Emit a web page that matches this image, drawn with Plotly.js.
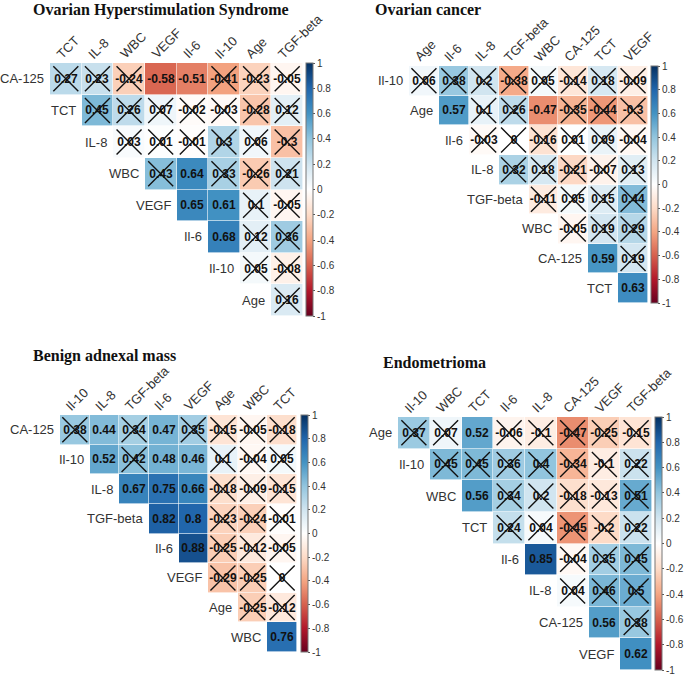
<!DOCTYPE html>
<html>
<head>
<meta charset="utf-8">
<script src="https://cdn.plot.ly/plotly-3.0.1.min.js"></script>
<style>body{margin:0;background:#fff}#myDiv{width:685px;height:676px}</style>
</head>
<body>
<div id="myDiv"></div>
<script>
// Ovarian Hyperstimulation Syndrome
var ohssCols = ['TCT', 'IL-8', 'WBC', 'VEGF', 'Il-6', 'Il-10', 'Age', 'TGF-beta'];
var ohssRows = ['CA-125', 'TCT', 'IL-8', 'WBC', 'VEGF', 'Il-6', 'Il-10', 'Age'];
var ohssVals = [
  [0.27, 0.23, -0.24, -0.58, -0.51, -0.41, -0.23, -0.05],
  [0.45, 0.26, 0.07, -0.02, -0.03, -0.28, 0.12],
  [0.03, 0.01, -0.01, 0.3, 0.06, -0.3],
  [0.43, 0.64, 0.33, -0.26, 0.21],
  [0.65, 0.61, 0.1, -0.05],
  [0.68, 0.12, 0.36],
  [0.05, -0.08],
  [0.16]
];
var ohssSig = [['CA-125', 'VEGF'], ['CA-125', 'Il-6'], ['WBC', 'Il-6'], ['VEGF', 'Il-6'], ['VEGF', 'Il-10'], ['Il-6', 'Il-10']];

// Ovarian cancer
var ocCols = ['Age', 'Il-6', 'IL-8', 'TGF-beta', 'WBC', 'CA-125', 'TCT', 'VEGF'];
var ocRows = ['Il-10', 'Age', 'Il-6', 'IL-8', 'TGF-beta', 'WBC', 'CA-125', 'TCT'];
var ocVals = [
  [0.06, 0.38, 0.2, -0.38, 0.05, -0.14, 0.18, -0.09],
  [0.57, 0.1, 0.26, -0.47, -0.35, -0.44, -0.3],
  [-0.03, 0, -0.16, 0.01, 0.09, -0.04],
  [0.32, 0.18, -0.21, -0.07, 0.13],
  [-0.11, 0.05, 0.15, 0.44],
  [-0.05, 0.19, 0.29],
  [0.59, 0.19],
  [0.63]
];
var ocSig = [['Age', 'Il-6'], ['Age', 'WBC'], ['CA-125', 'TCT'], ['TCT', 'VEGF']];

// Benign adnexal mass
var bamCols = ['Il-10', 'IL-8', 'TGF-beta', 'Il-6', 'VEGF', 'Age', 'WBC', 'TCT'];
var bamRows = ['CA-125', 'Il-10', 'IL-8', 'TGF-beta', 'Il-6', 'VEGF', 'Age', 'WBC'];
var bamVals = [
  [0.38, 0.44, 0.34, 0.47, 0.35, -0.15, -0.05, -0.18],
  [0.52, 0.42, 0.48, 0.46, 0.1, -0.04, 0.05],
  [0.67, 0.75, 0.66, -0.18, -0.09, -0.15],
  [0.82, 0.8, -0.23, -0.24, -0.01],
  [0.88, -0.25, -0.12, -0.05],
  [-0.29, -0.25, 0],
  [-0.25, -0.12],
  [0.76]
];
var bamSig = [['CA-125', 'IL-8'], ['CA-125', 'Il-6'], ['Il-10', 'IL-8'], ['Il-10', 'Il-6'], ['Il-10', 'VEGF'],
  ['IL-8', 'TGF-beta'], ['IL-8', 'Il-6'], ['IL-8', 'VEGF'], ['TGF-beta', 'Il-6'], ['TGF-beta', 'VEGF'],
  ['Il-6', 'VEGF'], ['WBC', 'TCT']];

// Endometrioma
var endoCols = ['Il-10', 'WBC', 'TCT', 'Il-6', 'IL-8', 'CA-125', 'VEGF', 'TGF-beta'];
var endoRows = ['Age', 'Il-10', 'WBC', 'TCT', 'Il-6', 'IL-8', 'CA-125', 'VEGF'];
var endoVals = [
  [0.37, 0.07, 0.52, -0.06, -0.1, -0.47, -0.25, -0.15],
  [0.45, 0.45, 0.36, 0.4, -0.34, -0.1, 0.22],
  [0.56, 0.34, 0.2, -0.18, -0.13, 0.51],
  [0.24, 0.04, -0.45, -0.2, 0.22],
  [0.85, -0.04, 0.35, 0.45],
  [0.04, 0.46, 0.5],
  [0.56, 0.38],
  [0.62]
];
var endoSig = [['Age', 'TCT'], ['WBC', 'TCT'], ['Il-6', 'IL-8'], ['CA-125', 'VEGF'], ['VEGF', 'TGF-beta']];

var titles = ['Ovarian Hyperstimulation Syndrome', 'Ovarian cancer', 'Benign adnexal mass', 'Endometrioma'];

var rdbu = [
  [0, '#67001F'], [0.1, '#B2182B'], [0.2, '#D6604D'], [0.3, '#F4A582'], [0.4, '#FDDBC7'],
  [0.5, '#FFFFFF'], [0.6, '#D1E5F0'], [0.7, '#92C5DE'], [0.8, '#4393C3'], [0.9, '#2166AC'], [1, '#053061']
];
var cbVals = [1, 0.8, 0.6, 0.4, 0.2, 0, -0.2, -0.4, -0.6, -0.8, -1];

// pixel boxes of each grid: [left, right, top, bottom], title pos [x, y]
var panels = [
  {cols: ohssCols, rows: ohssRows, vals: ohssVals, sig: ohssSig, box: [50, 303, 63, 316], cbx: 306, tpos: [31, 10]},
  {cols: ocCols, rows: ocRows, vals: ocVals, sig: ocSig, box: [409, 648, 66, 303], cbx: 651, tpos: [373, 9]},
  {cols: bamCols, rows: bamRows, vals: bamVals, sig: bamSig, box: [60, 297, 415, 652], cbx: 301, tpos: [31, 356]},
  {cols: endoCols, rows: endoRows, vals: endoVals, sig: endoSig, box: [398, 652, 417, 670], cbx: 655, tpos: [381, 362]}
];

var W = 685, H = 676;
var labelFont = 'Arial, "Liberation Sans", sans-serif';
var ctx = document.createElement('canvas').getContext('2d');
ctx.font = '13px ' + labelFont;

var data = [];
var layout = {
  width: W, height: H,
  margin: {l: 0, r: 0, t: 0, b: 0},
  paper_bgcolor: '#fff', plot_bgcolor: '#fff',
  showlegend: false,
  font: {family: labelFont, color: '#333'},
  annotations: []
};

panels.forEach(function (p, k) {
  var n = k === 0 ? '' : String(k + 1);
  var z = [], txt = [];
  p.vals.forEach(function (row, i) {
    var zr = [], tr = [];
    for (var j = 0; j < p.cols.length; j++) {
      if (j < i) { zr.push(null); tr.push(''); }
      else { zr.push(row[j - i]); tr.push(String(row[j - i])); }
    }
    z.push(zr); txt.push(tr);
  });

  var boxH = p.box[3] - p.box[2];
  data.push({
    type: 'heatmap', x: p.cols, y: p.rows, z: z, text: txt,
    texttemplate: '%{text}',
    textfont: {family: labelFont, size: 12, color: '#111', weight: 'bold'},
    xaxis: 'x' + n, yaxis: 'y' + n,
    colorscale: rdbu, zmin: -1, zmax: 1,
    xgap: 0.6, ygap: 0.6,
    hoverinfo: 'skip',
    colorbar: {
      x: p.cbx / W, xanchor: 'left', y: 1 - (p.box[2] + p.box[3]) / 2 / H, yanchor: 'middle',
      len: boxH, lenmode: 'pixels', thickness: 7,
      outlinewidth: 1, outlinecolor: '#777',
      tickvals: cbVals, ticktext: cbVals.map(function (v) { return String(v); }),
      ticks: 'outside', ticklen: 2, tickcolor: '#555',
      tickfont: {size: 10, color: '#333'}, xpad: 0, ypad: 0
    }
  });

  // crosses for non-significant cells
  var cx = [], cy = [];
  p.vals.forEach(function (row, i) {
    row.forEach(function (v, jj) {
      var c = p.cols[i + jj], r = p.rows[i];
      var isSig = p.sig.some(function (s) { return s[0] === r && s[1] === c; });
      if (!isSig) { cx.push(c); cy.push(r); }
    });
  });
  data.push({
    type: 'scatter', mode: 'markers', x: cx, y: cy,
    xaxis: 'x' + n, yaxis: 'y' + n, hoverinfo: 'skip',
    marker: {symbol: 'x-thin', size: 25, line: {width: 1.4, color: '#111'}, color: '#111'},
    cliponaxis: false
  });

  layout['xaxis' + n] = {
    domain: [p.box[0] / W, p.box[1] / W], anchor: 'y' + n,
    type: 'category', categoryarray: p.cols, range: [-0.5, 7.5],
    showgrid: false, zeroline: false, showline: false, ticks: '', showticklabels: false,
    fixedrange: true
  };
  layout['yaxis' + n] = {
    domain: [1 - p.box[3] / H, 1 - p.box[2] / H], anchor: 'x' + n,
    type: 'category', categoryarray: p.rows, range: [7.5, -0.5],
    showgrid: false, zeroline: false, showline: false, showticklabels: false, ticks: '',
    fixedrange: true
  };

  // column labels, rotated 45deg, starting at column centre
  var cw = (p.box[1] - p.box[0]) / p.cols.length;
  p.cols.forEach(function (c, j) {
    var L = ctx.measureText(c).width;
    var x0 = p.box[0] + cw * (j + 0.5) - 2, y0 = p.box[2] - 2;
    var cxp = x0 + 0.7071 * L / 2 - 0.7071 * 7;
    var cyp = y0 - 0.7071 * L / 2 - 0.7071 * 7;
    layout.annotations.push({
      xref: 'paper', yref: 'paper', x: cxp / W, y: 1 - cyp / H, text: c,
      textangle: -45, xanchor: 'center', yanchor: 'middle', showarrow: false,
      font: {size: 13, color: '#333'}
    });
  });

  // row labels next to the diagonal
  p.rows.forEach(function (r, i) {
    layout.annotations.push({
      xref: 'x' + n, yref: 'y' + n, x: i - 0.5, y: r, text: r,
      xanchor: 'right', yanchor: 'middle', xshift: -4, showarrow: false,
      font: {size: 13, color: '#333'}
    });
  });

  layout.annotations.push({
    xref: 'paper', yref: 'paper', x: p.tpos[0] / W, y: 1 - p.tpos[1] / H,
    xanchor: 'left', yanchor: 'middle', showarrow: false, text: titles[k],
    font: {family: 'Liberation Serif, Times New Roman, serif', size: 16, color: '#111', weight: 'bold'}
  });
});

Plotly.newPlot('myDiv', data, layout, {displayModeBar: false, staticPlot: true});
</script>
</body>
</html>
